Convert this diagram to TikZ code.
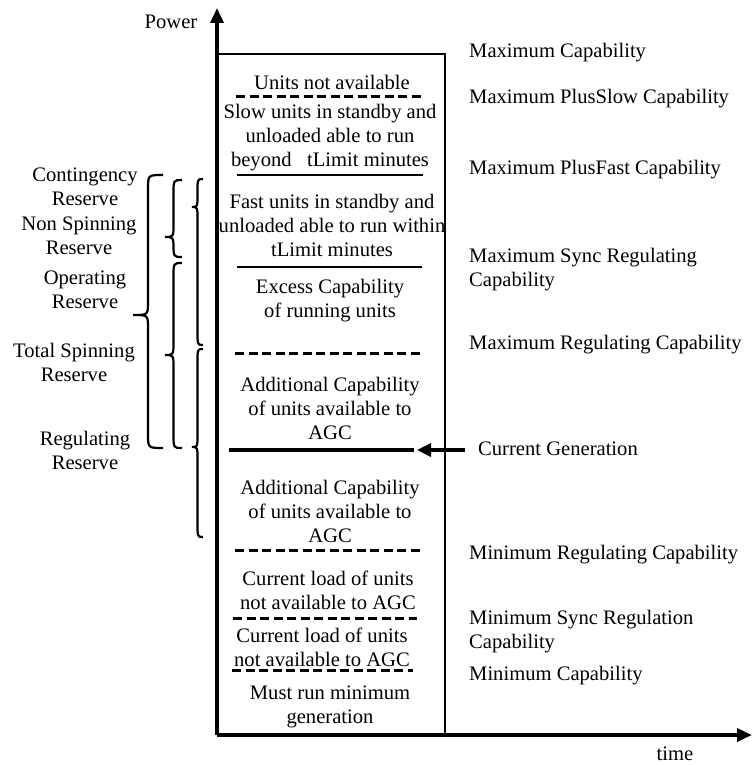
\documentclass[tikz,border=0pt]{standalone}
\usepackage{fontspec}
\setmainfont{Liberation Serif}
\usetikzlibrary{arrows.meta}
\newcommand\mybrace[5]{% xend, xtip, ytop, ytip, ybot
  \draw[bracestyle] (#1,#3) .. controls ({(#1+#2)/2},#3) .. ({(#1+#2)/2},{#3+14})
    -- ({(#1+#2)/2},{#4-13}) .. controls ({(#1+#2)/2},#4) .. (#2,#4)
    .. controls ({(#1+#2)/2},#4) .. ({(#1+#2)/2},{#4+13})
    -- ({(#1+#2)/2},{#5-14}) .. controls ({(#1+#2)/2},#5) .. (#1,#5);}
\begin{document}
\begin{tikzpicture}[x=1pt,y=-1pt,
  every node/.style={inner sep=0pt, font=\fontsize{20.6}{24}\selectfont},
  txt/.style={align=center},
  lbl/.style={anchor=west, align=left},
  dashline/.style={line width=3pt, dash pattern=on 9pt off 4.5pt},
  solidline/.style={line width=2pt},
  axisline/.style={line width=3.5pt, -{Triangle[length=15pt,width=13pt]}},
  boxline/.style={line width=2.5pt},
  bracestyle/.style={line width=2.2pt},
  cgarrow/.style={line width=3.5pt, -{Triangle[length=14pt,width=13pt]}}]
\useasboundingbox (0,0) rectangle (753,765);
% axes and box
\coordinate (O) at (217,735);
\coordinate (ytip) at (217,8);
\coordinate (xtip) at (752,735);
\coordinate (boxtl) at (217,54);
\coordinate (boxtr) at (445,54);
\coordinate (boxbr) at (445,735);
\draw[boxline] (boxtl) -- (boxtr) -- (boxbr);
\draw[axisline] (O) -- (ytip);
\draw[axisline] (O) -- (xtip);
\node (power) at (171,22) {Power};
\node (time) at (675,754) {time};
% box contents
\node[txt] (n1) at (332,82) {Units not available};
\draw[dashline] (236,97) -- (421,97);
\node[txt] (n2) at (330,138) {Slow units in standby and\\unloaded able to run\\beyond\ \ \ tLimit minutes};
\draw[solidline] (237,175) -- (423,175);
\node[txt] (n3) at (332,225) {Fast units in standby and\\unloaded able to run within\\tLimit minutes};
\draw[solidline] (237,267) -- (422,267);
\node[txt] (n4) at (330,301) {Excess Capability\\of running units};
\draw[dashline] (235,353) -- (422,353);
\node[txt] (n5) at (330,408) {Additional Capability\\of units available to\\AGC};
\coordinate (cgl) at (229,450);
\coordinate (cgr) at (414,450);
\draw[line width=3.5pt] (cgl) -- (cgr);
\node[txt] (n6) at (330,511) {Additional Capability\\of units available to\\AGC};
\draw[dashline] (235,550) -- (420,550);
\node[txt] (n7) at (328,590) {Current load of units\\not available to AGC};
\draw[dashline] (233,618) -- (417,618);
\node[txt] (n8) at (322,647) {Current load of units\\not available to AGC};
\draw[dashline] (232,670) -- (413,670);
\node[txt] (n9) at (330,707) {Must run minimum\\generation};
% right labels
\node[lbl] (r1) at (469,53) {Maximum Capability};
\node[lbl] (r2) at (469,99) {Maximum PlusSlow Capability};
\node[lbl] (r3) at (469,170) {Maximum PlusFast Capability};
\node[lbl] (r4) at (469,270) {Maximum Sync Regulating\\Capability};
\node[lbl] (r5) at (469,345) {Maximum Regulating Capability};
\node[lbl] (cg) at (478,449) {Current Generation};
\node[lbl] (r6) at (469,555) {Minimum Regulating Capability};
\node[lbl] (r7) at (469,632) {Minimum Sync Regulation\\Capability};
\node[lbl] (r8) at (469,676) {Minimum Capability};
\coordinate (cgstart) at (465,450);
\coordinate (cgtip) at (417,450);
\draw[cgarrow] (cgstart) -- (cgtip);
% left labels
\node[txt] (l1) at (85,187) {Contingency\\Reserve};
\node[txt] (l2) at (79,236) {Non Spinning\\Reserve};
\node[txt] (l3) at (85,290) {Operating\\Reserve};
\node[txt] (l4) at (74,362) {Total Spinning\\Reserve};
\node[txt] (l5) at (85,450) {Regulating\\Reserve};
% braces
\mybrace{163}{133}{175}{315}{448}
\mybrace{182}{165}{180}{237}{257}
\mybrace{203}{192}{179}{207}{345}
\mybrace{182}{165}{263}{355}{448}
\mybrace{203}{192}{349}{447}{537}
\end{tikzpicture}
\end{document}
